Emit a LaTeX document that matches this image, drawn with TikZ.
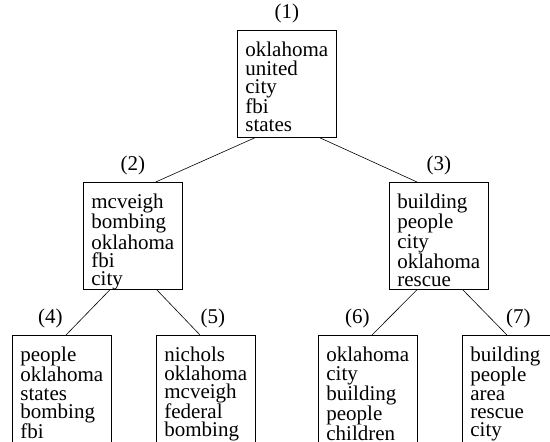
\documentclass[tikz,border=0pt]{standalone}
\usepackage{fontspec}
\setmainfont{Liberation Serif}
\newfontfamily\timesfont{Liberation Serif}
\usetikzlibrary{positioning}

\tikzset{
  topic/.style={draw,line width=0.7pt,anchor=north west,align=left,
        text width=83pt,inner xsep=8pt,inner ysep=0pt,
        text height=26.5pt,text depth=80.5pt,
        font=\timesfont\fontsize{21}{18.2}\selectfont},
  lbl/.style={inner sep=0pt,font=\timesfont\fontsize{21}{21}\selectfont},
  every label/.style={lbl},
  label distance=6.5pt
}

\begin{document}
\begin{tikzpicture}[x=1pt,y=-1pt]
  \useasboundingbox (0,0) rectangle (550,442);
  \clip (0,0) rectangle (550,442);
  % top level
  \node[topic,label={[name=l1]above:(1)}] (b1) at (237,30)
        {oklahoma\\united\\city\\fbi\\states};
  % second level
  \node[topic,label={[name=l2]above:(2)}] (b2) at (83,182)
        {mcveigh\\bombing\\oklahoma\\fbi\\city};
  \node[topic,label={[name=l3]above:(3)}] (b3) at (389,182)
        {building\\people\\city\\oklahoma\\rescue};
  % leaves
  \node[topic,label={[name=l4,xshift=-11.5pt]above:(4)}] (b4) at (12,335)
        {people\\oklahoma\\states\\bombing\\fbi};
  \node[topic,label={[name=l5,xshift=7pt]above:(5)}] (b5) at (156,335)
        {nichols\\oklahoma\\mcveigh\\federal\\bombing};
  \node[topic,label={[name=l6,xshift=-10.5pt]above:(6)}] (b6) at (318,335)
        {oklahoma\\city\\building\\people\\children};
  \node[topic,label={[name=l7,xshift=6.5pt]above:(7)}] (b7) at (462,335)
        {building\\people\\area\\rescue\\city};
  % tree edges
  \draw[line width=0.6pt]([xshift=18pt]b1.south west)--([xshift=-27pt]b2.north east);
  \draw[line width=0.6pt]([xshift=-17pt]b1.south east)--([xshift=28pt]b3.north west);
  \draw[line width=0.6pt]([xshift=27pt]b2.south west)--([xshift=54pt]b4.north west);
  \draw[line width=0.6pt]([xshift=-26pt]b2.south east)--([xshift=44pt]b5.north west);
  \draw[line width=0.6pt]([xshift=28pt]b3.south west)--([xshift=54pt]b6.north west);
  \draw[line width=0.6pt]([xshift=-26pt]b3.south east)--([xshift=45pt]b7.north west);
\end{tikzpicture}
\end{document}
